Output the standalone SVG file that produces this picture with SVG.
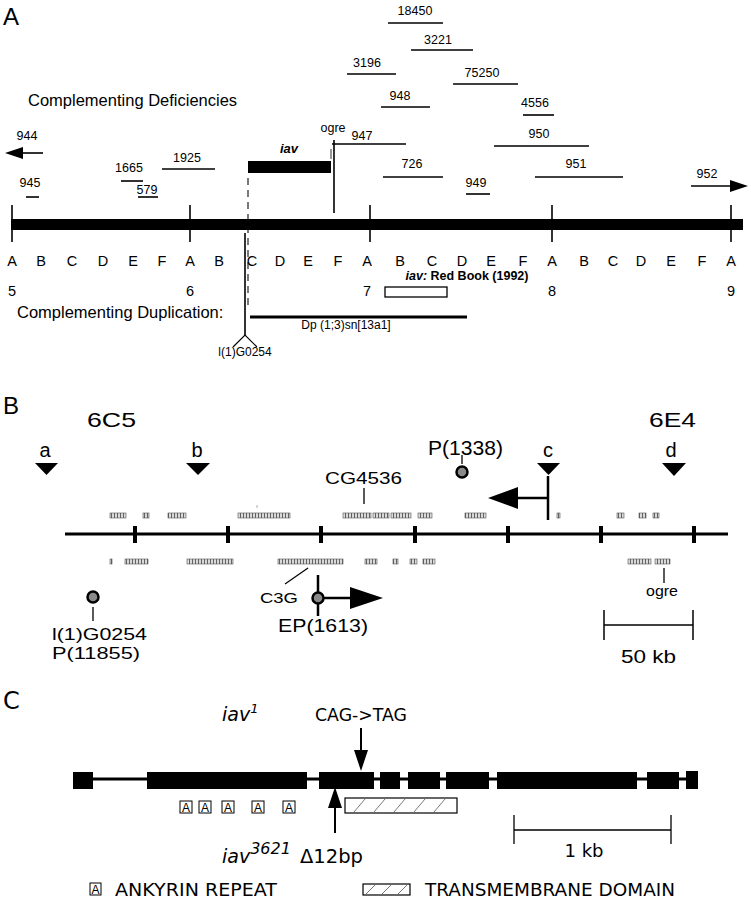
<svg xmlns="http://www.w3.org/2000/svg" width="751" height="899" viewBox="0 0 751 899">
<style>
text{font-family:"Liberation Sans",Arial,sans-serif;fill:#000}
.n{font-size:12.5px;text-anchor:middle}
.seg{stroke:#000;stroke-width:1.6;fill:none}
.band{font-size:14.5px;text-anchor:middle}
.lbl{font-size:16.5px}
.pan{font-size:24px}
.bt{font-size:20px;text-anchor:middle}
.c{font-family:"DejaVu Sans",Verdana,sans-serif}
.gene{fill:url(#stripe);stroke:#555;stroke-width:0.6}
.tri{fill:#000}
.dot{fill:#8a8a8a;stroke:#000;stroke-width:2.5}
.thin{stroke:#000;stroke-width:1.2;fill:none}
.exon{fill:#000}
.ank rect{fill:#fff;stroke:#000;stroke-width:1}
.ank text{font-size:12px;text-anchor:middle}
</style>
<defs>
<pattern id="stripe" width="3" height="6" patternUnits="userSpaceOnUse"><rect width="3" height="6" fill="#dadada"/><line x1="0.5" y1="0" x2="0.5" y2="6" stroke="#444" stroke-width="0.8"/></pattern>
</defs>
<rect width="751" height="899" fill="#fff"/>

<!-- ================= Panel A ================= -->
<g id="panelA">
<text class="pan" x="3" y="25">A</text>
<text class="lbl" x="28" y="106">Complementing Deficiencies</text>
</g>

<g id="deficiencies">
<g id="df18450"><text class="n" x="415" y="15">18450</text><line class="seg" x1="388" y1="23" x2="443" y2="23"/></g>
<g id="df3221"><text class="n" x="438" y="44">3221</text><line class="seg" x1="411" y1="50" x2="473" y2="50"/></g>
<g id="df3196"><text class="n" x="367" y="67">3196</text><line class="seg" x1="347" y1="74" x2="396" y2="74"/></g>
<g id="df75250"><text class="n" x="482" y="77">75250</text><line class="seg" x1="453" y1="84" x2="518" y2="84"/></g>
<g id="df948"><text class="n" x="400" y="100">948</text><line class="seg" x1="381" y1="107" x2="430" y2="107"/></g>
<g id="df4556"><text class="n" x="535" y="107">4556</text><line class="seg" x1="523" y1="115" x2="554" y2="115"/></g>
<g id="df947"><text class="n" x="362" y="140">947</text><line class="seg" x1="332" y1="144" x2="406" y2="144"/></g>
<g id="df950"><text class="n" x="539" y="138">950</text><line class="seg" x1="494" y1="146" x2="589" y2="146"/></g>
<g id="df726"><text class="n" x="412" y="168">726</text><line class="seg" x1="383" y1="177" x2="443" y2="177"/></g>
<g id="df951"><text class="n" x="576" y="168">951</text><line class="seg" x1="535" y1="177" x2="623" y2="177"/></g>
<g id="df949"><text class="n" x="476" y="187">949</text><line class="seg" x1="466" y1="194" x2="490" y2="194"/></g>
<g id="df952"><text class="n" x="707" y="178">952</text><line class="seg" x1="691" y1="186" x2="733" y2="186"/><polygon class="tri" points="748,186 730,180 730,192"/></g>
<g id="df944"><text class="n" x="27" y="140">944</text><line class="seg" x1="20" y1="153" x2="43" y2="153"/><polygon class="tri" points="5,153 23,147 23,159"/></g>
<g id="df945"><text class="n" x="30" y="187">945</text><line class="seg" x1="26" y1="197" x2="39" y2="197"/></g>
<g id="df1925"><text class="n" x="187" y="162">1925</text><line class="seg" x1="162" y1="169" x2="215" y2="169"/></g>
<g id="df1665"><text class="n" x="129" y="172">1665</text><line class="seg" x1="121" y1="181" x2="143" y2="181"/></g>
<g id="df579"><text class="n" x="147" y="194">579</text><line class="seg" x1="138" y1="197" x2="158" y2="197"/></g>
</g>

<g id="iav">
<text x="289" y="153" font-size="13" font-weight="bold" font-style="italic" text-anchor="middle">iav</text>
<rect x="248" y="161" width="83" height="12" fill="#000"/>
<line x1="331" y1="149" x2="331" y2="159" stroke="#555" stroke-width="1.2"/>
<line x1="248" y1="178" x2="248" y2="310" stroke="#333" stroke-width="1.3" stroke-dasharray="7,5"/>
</g>

<g id="ogreA">
<text class="n" x="333" y="132">ogre</text>
<line x1="334" y1="140" x2="334" y2="213" stroke="#000" stroke-width="1.6"/>
</g>

<g id="chromosome">
<rect x="11" y="219" width="732" height="11" fill="#000"/>
<g stroke="#000" stroke-width="1.6">
<line x1="12" y1="205" x2="12" y2="242"/>
<line x1="190" y1="205" x2="190" y2="242"/>
<line x1="370" y1="205" x2="370" y2="242"/>
<line x1="552" y1="205" x2="552" y2="242"/>
<line x1="731" y1="205" x2="731" y2="242"/>
</g>
<g>
<text class="band" x="12" y="266">A</text><text class="band" x="41" y="266">B</text><text class="band" x="72" y="266">C</text><text class="band" x="103" y="266">D</text><text class="band" x="133" y="266">E</text><text class="band" x="162" y="266">F</text>
<text class="band" x="190" y="266">A</text><text class="band" x="219" y="266">B</text><text class="band" x="252" y="266">C</text><text class="band" x="280" y="266">D</text><text class="band" x="308" y="266">E</text><text class="band" x="338" y="266">F</text>
<text class="band" x="367" y="266">A</text><text class="band" x="400" y="266">B</text><text class="band" x="432" y="266">C</text><text class="band" x="462" y="266">D</text><text class="band" x="491" y="266">E</text><text class="band" x="523" y="266">F</text>
<text class="band" x="552" y="266">A</text><text class="band" x="584" y="266">B</text><text class="band" x="613" y="266">C</text><text class="band" x="641" y="266">D</text><text class="band" x="671" y="266">E</text><text class="band" x="702" y="266">F</text>
<text class="band" x="731" y="266">A</text>
<text class="band" x="12" y="296">5</text><text class="band" x="190" y="296">6</text><text class="band" x="367" y="296">7</text><text class="band" x="552" y="296">8</text><text class="band" x="731" y="296">9</text>
</g>
</g>

<g id="redbook">
<text x="467" y="280" font-size="12.5" font-weight="bold" text-anchor="middle"><tspan font-style="italic">iav:</tspan> Red Book (1992)</text>
<rect x="385" y="287" width="62" height="10" fill="#fff" stroke="#000" stroke-width="1.3"/>
</g>

<g id="duplication">
<text class="lbl" x="17" y="318">Complementing Duplication:</text>
<line x1="250" y1="317" x2="467" y2="317" stroke="#000" stroke-width="3"/>
<text x="346" y="329" font-size="12" text-anchor="middle">Dp (1;3)sn[13a1]</text>
</g>

<g id="G0254A">
<line x1="245" y1="233" x2="245" y2="335" stroke="#000" stroke-width="1.6"/>
<polyline class="thin" points="233,347 245,335 257,347"/>
<text x="245" y="356" font-size="12" text-anchor="middle">l(1)G0254</text>
</g>

<!-- ================= Panel B ================= -->
<g id="panelB">
<text class="pan" x="3" y="414">B</text>
<text x="87" y="427" font-size="21" textLength="49" lengthAdjust="spacingAndGlyphs">6C5</text>
<text x="649" y="427" font-size="21" textLength="47" lengthAdjust="spacingAndGlyphs">6E4</text>
</g>

<g id="markers">
<g id="mk_a"><text class="bt" x="45" y="457" font-size="23">a</text><polygon class="tri" points="35,463 58,463 46.5,475"/></g>
<g id="mk_b"><text class="bt" x="197" y="457" font-size="23">b</text><polygon class="tri" points="186,463 210,463 198,475"/></g>
<g id="mk_c"><text class="bt" x="548" y="457" font-size="23">c</text><polygon class="tri" points="537,463 560,463 548.5,475"/></g>
<g id="mk_d"><text class="bt" x="671" y="457" font-size="23">d</text><polygon class="tri" points="662,463 686,463 674,476"/></g>
</g>

<g id="P1338">
<text x="428" y="455" font-size="20" textLength="75" lengthAdjust="spacingAndGlyphs">P(1338)</text>
<line x1="462" y1="455" x2="462" y2="464" stroke="#000" stroke-width="1.3"/>
<circle class="dot" cx="462" cy="472" r="5.5"/>
</g>

<g id="CG4536">
<text x="325" y="484" font-size="16" textLength="77" lengthAdjust="spacingAndGlyphs">CG4536</text>
<line x1="364" y1="488" x2="364" y2="504" stroke="#000" stroke-width="1.3"/>
</g>

<g id="promoterC">
<line x1="548" y1="476" x2="548" y2="520" stroke="#000" stroke-width="2.5"/>
<line x1="516" y1="498" x2="548" y2="498" stroke="#000" stroke-width="2.5"/>
<polygon class="tri" points="488,498 518,487 518,509"/>
</g>

<g id="genomicLine">
<line x1="65" y1="534" x2="728" y2="534" stroke="#000" stroke-width="3"/>
<g stroke="#000" stroke-width="4">
<line x1="135" y1="526" x2="135" y2="543"/>
<line x1="228" y1="526" x2="228" y2="543"/>
<line x1="321" y1="526" x2="321" y2="543"/>
<line x1="415" y1="526" x2="415" y2="543"/>
<line x1="508" y1="526" x2="508" y2="543"/>
<line x1="601" y1="526" x2="601" y2="543"/>
<line x1="694" y1="526" x2="694" y2="543"/>
</g>
</g>

<g id="genesAbove">
<rect class="gene" x="110" y="513" width="16" height="5"/>
<rect class="gene" x="143" y="513" width="6" height="5"/>
<rect class="gene" x="168" y="513" width="18" height="5"/>
<rect class="gene" x="238" y="513" width="52" height="5"/>
<line x1="257" y1="505" x2="257" y2="508" stroke="#777" stroke-width="0.6"/>
<rect class="gene" x="343" y="513" width="28" height="5"/>
<rect class="gene" x="373" y="513" width="16" height="5"/>
<rect class="gene" x="391" y="513" width="20" height="5"/>
<rect class="gene" x="418" y="513" width="14" height="5"/>
<rect class="gene" x="465" y="513" width="21" height="5"/>
<rect class="gene" x="557" y="513" width="3" height="5"/>
<rect class="gene" x="617" y="513" width="7" height="5"/>
<rect class="gene" x="639" y="513" width="7" height="5"/>
<rect class="gene" x="653" y="513" width="6" height="5"/>
</g>

<g id="genesBelow">
<rect class="gene" x="110" y="559" width="2" height="5"/>
<rect class="gene" x="125" y="559" width="23" height="5"/>
<rect class="gene" x="187" y="559" width="46" height="5"/>
<rect class="gene" x="278" y="559" width="65" height="5"/>
<rect class="gene" x="365" y="559" width="12" height="5"/>
<rect class="gene" x="393" y="559" width="5" height="5"/>
<rect class="gene" x="410" y="559" width="7" height="5"/>
<rect class="gene" x="423" y="559" width="12" height="5"/>
<rect class="gene" x="628" y="559" width="23" height="5"/>
<rect class="gene" x="655" y="559" width="15" height="5"/>
</g>

<g id="C3G">
<line x1="308" y1="568" x2="285" y2="584" stroke="#000" stroke-width="1.3"/>
<text x="260" y="603" font-size="15" textLength="38" lengthAdjust="spacingAndGlyphs">C3G</text>
</g>

<g id="EP1613">
<line x1="318" y1="575" x2="318" y2="616" stroke="#000" stroke-width="2.5"/>
<line x1="318" y1="598" x2="352" y2="598" stroke="#000" stroke-width="2.5"/>
<polygon class="tri" points="383,598 350,587 350,609"/>
<circle class="dot" cx="318" cy="598" r="5.5"/>
<text x="278" y="632" font-size="18" textLength="90" lengthAdjust="spacingAndGlyphs">EP(1613)</text>
</g>

<g id="G0254B">
<circle class="dot" cx="93" cy="597" r="5.5"/>
<line x1="93" y1="607" x2="93" y2="621" stroke="#000" stroke-width="1.3"/>
<text x="52" y="640" font-size="16.5" textLength="95" lengthAdjust="spacingAndGlyphs">l(1)G0254</text>
<text x="52" y="659" font-size="16.5" textLength="88" lengthAdjust="spacingAndGlyphs">P(11855)</text>
</g>

<g id="ogreB">
<line x1="664" y1="568" x2="664" y2="583" stroke="#000" stroke-width="1.3"/>
<text x="646" y="596" font-size="14" textLength="32" lengthAdjust="spacingAndGlyphs">ogre</text>
</g>

<g id="scaleB">
<line x1="604" y1="625" x2="693" y2="625" stroke="#000" stroke-width="1.5"/>
<line x1="604" y1="610" x2="604" y2="640" stroke="#000" stroke-width="1.5"/>
<line x1="693" y1="610" x2="693" y2="640" stroke="#000" stroke-width="1.5"/>
<text x="621" y="663" font-size="18" textLength="55" lengthAdjust="spacingAndGlyphs">50 kb</text>
</g>

<!-- ================= Panel C ================= -->
<g id="panelC">
<text class="pan c" x="3" y="709" font-size="24">C</text>
</g>

<g id="iav1">
<text class="c" x="222" y="721" font-size="19"><tspan font-style="italic">iav</tspan><tspan font-style="italic" font-size="13" dy="-8">1</tspan></text>
<text class="c" x="315" y="721" font-size="17" textLength="92" lengthAdjust="spacingAndGlyphs">CAG-&gt;TAG</text>
<line x1="361" y1="728" x2="361" y2="752" stroke="#000" stroke-width="2"/>
<polygon class="tri" points="361,771 354,750 368,750"/>
</g>

<g id="geneModel">
<line x1="80" y1="779" x2="695" y2="779" stroke="#000" stroke-width="3"/>
<rect class="exon" x="73" y="772" width="20" height="17"/>
<rect class="exon" x="147" y="772" width="160" height="17"/>
<rect class="exon" x="319" y="772" width="55" height="17"/>
<rect class="exon" x="380" y="772" width="20" height="17"/>
<rect class="exon" x="408" y="772" width="32" height="17"/>
<rect class="exon" x="446" y="772" width="43" height="17"/>
<rect class="exon" x="497" y="772" width="140" height="17"/>
<rect class="exon" x="647" y="772" width="32" height="17"/>
<rect class="exon" x="686" y="771" width="12" height="18"/>
</g>

<g id="ankyrin" class="ank">
<rect x="180" y="801" width="12" height="12"/><text x="186" y="811.5">A</text>
<rect x="199" y="801" width="12" height="12"/><text x="205" y="811.5">A</text>
<rect x="222" y="801" width="12" height="12"/><text x="228" y="811.5">A</text>
<rect x="252" y="801" width="12" height="12"/><text x="258" y="811.5">A</text>
<rect x="283" y="801" width="12" height="12"/><text x="289" y="811.5">A</text>
</g>

<g id="tmDomain">
<rect x="345" y="798" width="112" height="15" fill="#fff" stroke="#000" stroke-width="1.2"/>
<g stroke="#555" stroke-width="0.8">
<line x1="354" y1="812" x2="365" y2="799"/>
<line x1="374" y1="812" x2="385" y2="799"/>
<line x1="394" y1="812" x2="405" y2="799"/>
<line x1="414" y1="812" x2="425" y2="799"/>
<line x1="434" y1="812" x2="445" y2="799"/>
</g>
</g>

<g id="iav3621">
<polygon class="tri" points="335,787 328,808 342,808"/>
<line x1="335" y1="806" x2="335" y2="833" stroke="#000" stroke-width="2"/>
<text class="c" x="222" y="863" font-size="19"><tspan font-style="italic">iav</tspan><tspan font-style="italic" font-size="16" dy="-9">3621</tspan></text>
<text class="c" x="300" y="863" font-size="19" textLength="63" lengthAdjust="spacingAndGlyphs">Δ12bp</text>
</g>

<g id="scaleC">
<line x1="514" y1="830" x2="671" y2="830" stroke="#000" stroke-width="1.3"/>
<line x1="514" y1="815" x2="514" y2="844" stroke="#000" stroke-width="1.3"/>
<line x1="671" y1="815" x2="671" y2="844" stroke="#000" stroke-width="1.3"/>
<text class="c" x="584" y="857" font-size="18" text-anchor="middle">1 kb</text>
</g>

<g id="legend">
<g class="ank"><rect x="90" y="883" width="11" height="12"/><text x="95.5" y="893.5">A</text></g>
<text class="c" x="115" y="896" font-size="17" textLength="162" lengthAdjust="spacingAndGlyphs">ANKYRIN REPEAT</text>
<rect x="363" y="884" width="47" height="11" fill="#fff" stroke="#000" stroke-width="1.2"/>
<g stroke="#555" stroke-width="0.8">
<line x1="366" y1="894" x2="375" y2="885"/>
<line x1="382" y1="894" x2="391" y2="885"/>
<line x1="398" y1="894" x2="407" y2="885"/>
</g>
<text class="c" x="425" y="896" font-size="17" textLength="250" lengthAdjust="spacingAndGlyphs">TRANSMEMBRANE DOMAIN</text>
</g>
</svg>
